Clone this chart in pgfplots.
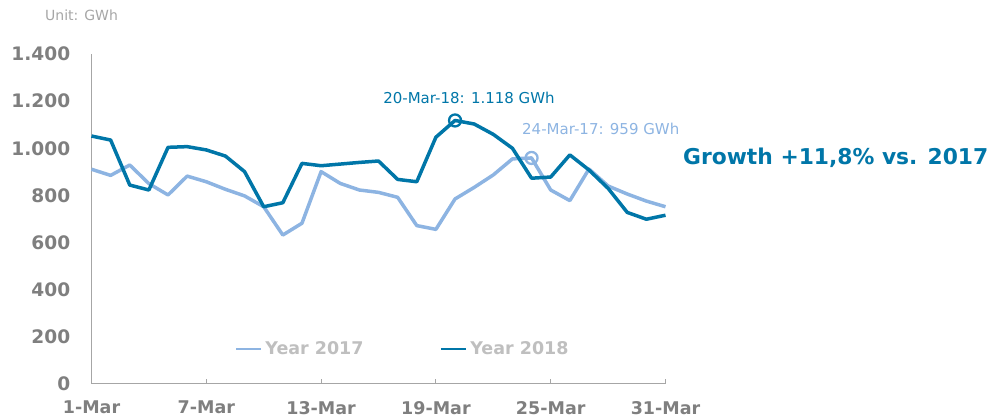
\documentclass[border=0pt]{standalone}
\usepackage{pgfplots}
\pgfplotsset{compat=1.18}
\usepackage{fontspec}
\setmainfont{DejaVu Sans}
\definecolor{dark}{HTML}{0076A8}
\definecolor{light}{HTML}{8DB4E2}
\definecolor{tickgrey}{HTML}{7F7F7F}
\definecolor{leggrey}{HTML}{BFBFBF}
\definecolor{axgrey}{HTML}{A6A6A6}
\begin{document}
\begin{tikzpicture}
\useasboundingbox (0pt,0pt) rectangle (990pt,417pt);
\begin{axis}[at={(91.5pt,33pt)}, anchor=south west, scale only axis,
  width=574pt, height=330pt,
  xmin=1, xmax=31, ymin=0, ymax=1400,
  axis x line=bottom, axis y line=left,
  axis line style={-, draw=axgrey, line width=1pt},
  xtick={1,7,13,19,25,31},
  xticklabels={1-Mar,7-Mar,13-Mar,19-Mar,25-Mar,31-Mar},
  ytick={0,200,...,1400},
  yticklabels={0,200,400,600,800,1.000,1.200,1.400},
  tick align=inside, major tick length=5pt,
  xtick style={draw=axgrey, line width=1pt}, ytick style={draw=none},
  /pgf/number format/assume math mode=true,
  ticklabel style={text=tickgrey, inner sep=0pt},
  yticklabel style={anchor=east, xshift=-21pt, font=\fontsize{18.6}{21}\selectfont\bfseries},
  xticklabel style={anchor=north, yshift=-17pt, font=\fontsize{17.5}{20}\selectfont\bfseries},
  legend style={at={(0.249,0.106)}, anchor=west, draw=none, fill=none, inner sep=0pt,
    font=\fontsize{17.5}{20}\selectfont\bfseries, text=leggrey,
    /tikz/every even column/.append style={column sep=76pt},
    nodes={inner sep=0pt}},
  legend columns=2,
  legend image code/.code={\draw[#1, line width=2.8pt] (0pt,0pt) -- (25pt,0pt);},
  clip=false]
\addplot[light, line width=3.5pt, line join=round] coordinates {
(1,911)(2,885)(3,929)(4,850)(5,802)(6,882)(7,858)(8,826)(9,798)(10,752)
(11,632)(12,682)(13,901)(14,851)(15,823)(16,813)(17,792)(18,672)(19,656)(20,785)
(21,834)(22,887)(23,955)(24,959)(25,823)(26,778)(27,912)(28,840)(29,806)(30,776)(31,752)};
\addlegendentry{\hspace{3pt}Year 2017}
\addplot[dark, line width=3.5pt, line join=round] coordinates {
(1,1052)(2,1035)(3,844)(4,823)(5,1004)(6,1007)(7,993)(8,967)(9,901)(10,752)
(11,769)(12,936)(13,926)(14,933)(15,940)(16,946)(17,868)(18,858)(19,1047)(20,1118)
(21,1103)(22,1059)(23,1000)(24,873)(25,878)(26,972)(27,908)(28,830)(29,728)(30,699)(31,716)};
\addlegendentry{\hspace{3pt}Year 2018}
\addplot[dark, only marks, mark=o, mark size=6pt, mark options={line width=2.3pt}, forget plot] coordinates {(20,1118)};
\addplot[light, only marks, mark=o, mark size=6pt, mark options={line width=2.3pt}, forget plot] coordinates {(24,959)};
\node[text=dark, font=\fontsize{15}{18}\selectfont, inner sep=0pt] at (axis cs:20.73,1213) {20-Mar-18: 1.118 GWh};
\node[text=light, font=\fontsize{15}{18}\selectfont, inner sep=0pt, anchor=west] at (axis cs:23.5,1082) {24-Mar-17: 959 GWh};
\end{axis}
\node[anchor=west, inner sep=0pt, text=dark, font=\fontsize{21.8}{26}\selectfont\bfseries] at (683pt,259pt) {Growth +11,8\% vs. 2017};
\node[anchor=west, inner sep=0pt, text=axgrey, font=\fontsize{14}{16}\selectfont] at (45pt,402pt) {Unit: GWh};
\end{tikzpicture}
\end{document}
